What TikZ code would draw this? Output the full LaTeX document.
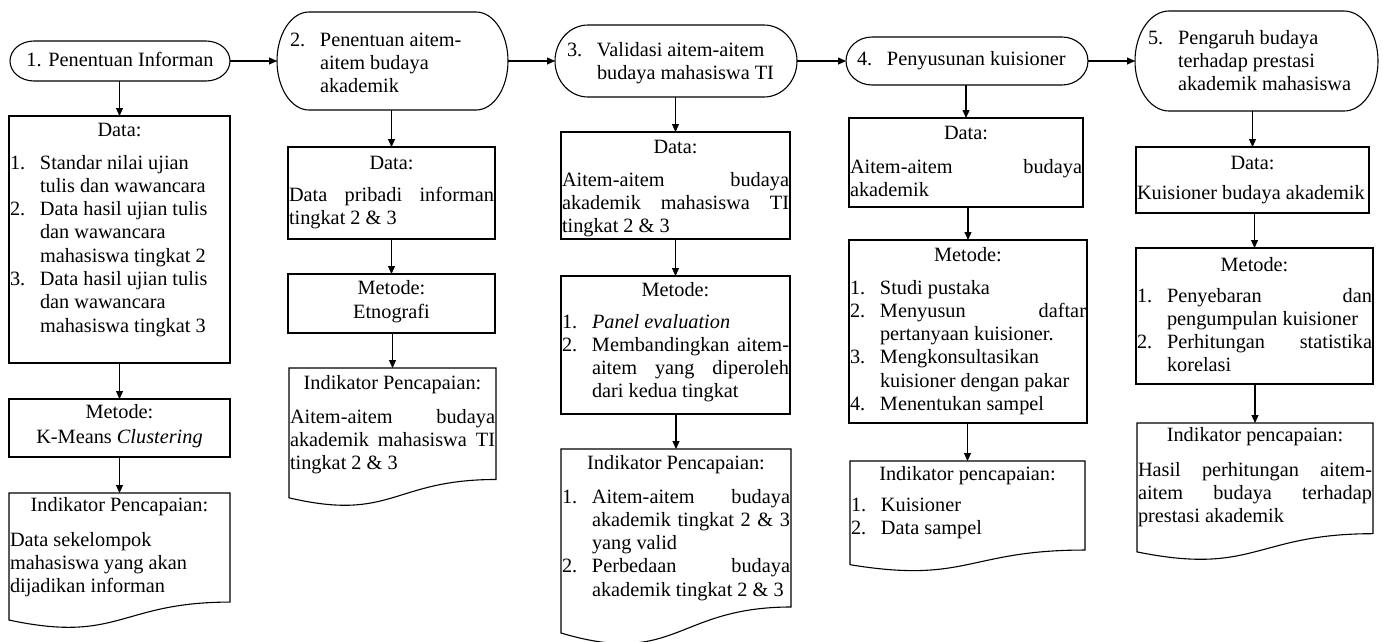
\documentclass[tikz,border=0pt]{standalone}
\usepackage{fontspec}
\setmainfont{Liberation Serif}
\usetikzlibrary{arrows.meta,calc}
\newcommand{\fsz}{\fontsize{20.3pt}{23.3pt}\selectfont}
\newcommand{\mysetpar}{\tolerance=10000 \hbadness=10000 \vbadness=10000 \hyphenpenalty=10000 \exhyphenpenalty=10000 \parindent=0pt \parskip=0pt \emergencystretch=0pt }
\newcommand{\mycbox}[4]{\parbox[c][#2pt][t]{#1pt}{\mysetpar\vspace*{#3pt}#4}}
\newcommand{\myhd}[2]{{\centering\strut #1\par}\vspace{#2pt}}
\newcommand{\myli}[2]{\par\hangindent=30pt\hangafter=1\noindent\strut\makebox[30pt][l]{#1}#2\par}
\newcommand{\mypl}[1]{\par\noindent\strut #1\par}
\newcommand{\termshape}[3]{\draw[ln] ([xshift=#2pt]#1.north west) -- ([xshift=-#2pt]#1.north east) arc[start angle=90,end angle=-90,x radius=#2pt,y radius=#3pt] -- ([xshift=#2pt]#1.south west) arc[start angle=270,end angle=90,x radius=#2pt,y radius=#3pt] -- cycle;}
\newcommand{\docshape}[1]{\draw[ln] (#1.north west) -- (#1.north east) -- ($(#1.north east)!0.802!(#1.south east)$) .. controls ($(#1.north)!0.802!(#1.south)$) and ($(#1.north)!1.108!(#1.south)$) .. ($(#1.north west)!0.934!(#1.south west)$) -- cycle;}
\tikzset{
  ln/.style={line width=1.1pt, draw=black},
  base/.style={inner xsep=1pt, inner ysep=0pt, outer sep=0pt, anchor=north west, font=\fsz, text=black},
  rbox/.style={base, ln, draw},
  plainn/.style={base},
  arr/.style={line width=1.1pt, -{Triangle[length=8pt,width=7pt]}}
}
\begin{document}
\begin{tikzpicture}[x=1pt,y=-1pt]
\useasboundingbox (0,0) rectangle (1383,641);
% column 1
\node[plainn] (t1) at (10,41) {\mycbox{218}{40}{8.7}{{\centering\strut\makebox[22pt][l]{1.}Penentuan Informan\par}}};
\node[rbox] (d1) at (9,116) {\mycbox{219}{247}{3.7}{\myhd{Data:}{9.7}\myli{1.}{Standar nilai ujian\newline tulis dan wawancara}\myli{2.}{Data hasil ujian tulis\newline dan wawancara\newline mahasiswa tingkat 2}\myli{3.}{Data hasil ujian tulis\newline dan wawancara\newline mahasiswa tingkat 3}}};
\node[rbox] (m1) at (9,399) {\mycbox{219}{58}{2.7}{\myhd{Metode:}{1.7}{\centering\strut K-Means \textit{Clustering}\par}}};
\node[plainn] (i1) at (9,493) {\mycbox{219}{136}{1.7}{\myhd{Indikator Pencapaian:}{11.7}\mypl{Data sekelompok\newline mahasiswa yang akan\newline dijadikan informan}}};
% column 2
\node[plainn] (t2) at (277,12) {\mycbox{229}{98}{17.7}{\leftskip=12pt\myli{2.}{Penentuan aitem-\newline aitem budaya\newline akademik}}};
\node[rbox] (d2) at (288,147) {\mycbox{205}{92}{5.7}{\myhd{Data:}{8.7}\mypl{Data pribadi informan\linebreak tingkat 2 \& 3}}};
\node[rbox] (m2) at (288,274) {\mycbox{205}{59}{3.7}{\myhd{Metode:}{0.7}{\centering\strut Etnografi\par}}};
\node[plainn] (i2) at (289,368) {\mycbox{205}{139}{4.7}{\myhd{Indikator Pencapaian:}{10.7}\mypl{Aitem-aitem budaya\linebreak akademik mahasiswa TI\linebreak tingkat 2 \& 3}}};
% column 3
\node[plainn] (t3) at (555,25) {\mycbox{240}{72}{14.7}{\leftskip=11pt\myli{3.}{Validasi aitem-aitem\newline budaya mahasiswa TI}}};
\node[rbox] (d3) at (561,132) {\mycbox{227}{107}{4.7}{\myhd{Data:}{9.7}\mypl{Aitem-aitem budaya\linebreak akademik mahasiswa TI\linebreak tingkat 2 \& 3}}};
\node[rbox] (m3) at (561,276) {\mycbox{227}{138}{3.7}{\myhd{Metode:}{8.7}\myli{1.}{\textit{Panel evaluation}}\myli{2.}{Membandingkan aitem-\linebreak aitem yang diperoleh\linebreak dari kedua tingkat}}};
\node[plainn] (i3) at (561,449) {\mycbox{228}{197}{3.7}{\myhd{Indikator Pencapaian:}{10.7}\myli{1.}{Aitem-aitem budaya\linebreak akademik tingkat 2 \& 3\linebreak yang valid}\myli{2.}{Perbedaan budaya\linebreak akademik tingkat 2 \& 3}}};
% column 4
\node[plainn] (t4) at (846,37) {\mycbox{240}{48}{11.7}{\leftskip=10pt\myli{4.}{Penyusunan kuisioner}}};
\node[rbox] (d4) at (849,118) {\mycbox{232}{89}{4.7}{\myhd{Data:}{10.7}\mypl{Aitem-aitem budaya\linebreak akademik}}};
\node[rbox] (m4) at (849,240) {\mycbox{236}{183}{4.7}{\myhd{Metode:}{9.7}\myli{1.}{Studi pustaka}\myli{2.}{Menyusun daftar\linebreak pertanyaan kuisioner.}\myli{3.}{Mengkonsultasikan\newline kuisioner dengan pakar}\myli{4.}{Menentukan sampel}}};
\node[plainn] (i4) at (850,461) {\mycbox{233}{111}{2.7}{\myhd{Indikator pencapaian:}{7.7}\myli{1.}{Kuisioner}\myli{2.}{Data sampel}}};
% column 5
\node[plainn] (t5) at (1135,11) {\mycbox{241}{100}{16.7}{\leftskip=12pt\myli{5.}{Pengaruh budaya\newline terhadap prestasi\newline akademik mahasiswa}}};
\node[rbox] (d5) at (1136,147) {\mycbox{231}{66}{5.7}{\myhd{Data:}{6.7}\mypl{Kuisioner budaya akademik}}};
\node[rbox] (m5) at (1136,248) {\mycbox{235}{136}{6.7}{\myhd{Metode:}{7.7}\myli{1.}{Penyebaran dan\linebreak pengumpulan kuisioner}\myli{2.}{Perhitungan statistika\linebreak korelasi}}};
\node[plainn] (i5) at (1137,423) {\mycbox{234}{138}{1.7}{\myhd{Indikator pencapaian:}{11.7}\mypl{Hasil perhitungan aitem-\linebreak aitem budaya terhadap\linebreak prestasi akademik}}};
% outlines
\termshape{t1}{24}{20}
\termshape{t2}{32}{49}
\termshape{t3}{33}{36}
\termshape{t4}{26}{24}
\termshape{t5}{34}{50}
\docshape{i1}
\docshape{i2}
\docshape{i3}
\docshape{i4}
\docshape{i5}
% connectors
\foreach \a/\b in {t1/t2,t2/t3,t3/t4,t4/t5}
  \draw[arr] (\a.east) -- (\b.west);
\foreach \a/\b in {t1/d1,d1/m1,m1/i1,t2/d2,d2/m2,m2/i2,t3/d3,d3/m3,m3/i3,t4/d4,d4/m4,m4/i4,t5/d5,d5/m5,m5/i5}
  \draw[arr] (\a.south -| \b.north) -- (\b.north);
\end{tikzpicture}
\end{document}
